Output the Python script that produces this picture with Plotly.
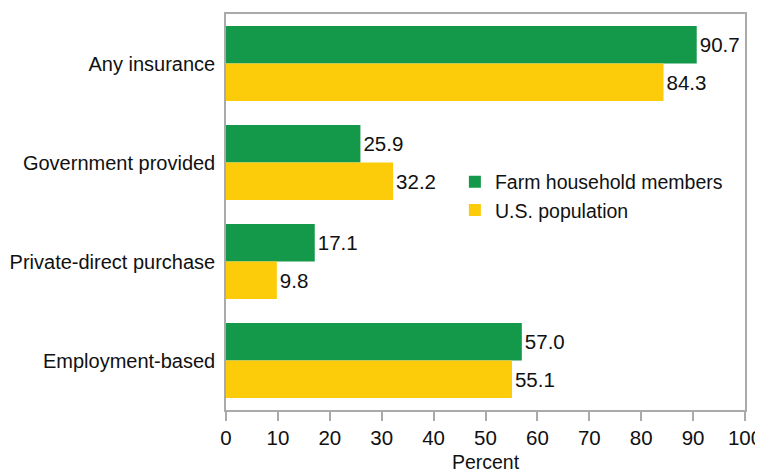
import plotly.graph_objects as go

# 数据
categories = ["Any insurance", "Government provided", "Private-direct purchase", "Employment-based"]
farm_values = [90.7, 25.9, 17.1, 57.0]
us_values = [84.3, 32.2, 9.8, 55.1]
x_ticks = list(range(0, 101, 10))

GREEN = "#14984A"
YELLOW = "#FCCB0A"
FONT = "Liberation Sans, Arial, sans-serif"

fig = go.Figure()
fig.add_trace(go.Bar(
    y=categories, x=farm_values, orientation="h",
    name="Farm household members", marker=dict(color=GREEN, line=dict(width=0)),
    text=[f"{v:.1f}" for v in farm_values], textposition="outside",
    textfont=dict(size=20.5, color="#111"), cliponaxis=False,
))
fig.add_trace(go.Bar(
    y=categories, x=us_values, orientation="h",
    name="U.S. population", marker=dict(color=YELLOW, line=dict(width=0)),
    text=[f"{v:.1f}" for v in us_values], textposition="outside",
    textfont=dict(size=20.5, color="#111"), cliponaxis=False,
))

# ページ本体の8pxマージン分を差し引いてサイズ調整
fig.update_layout(
    width=755, height=465,
    barmode="group", bargap=0.24, bargroupgap=0,
    paper_bgcolor="white", plot_bgcolor="white",
    font=dict(family=FONT, size=20, color="#111"),
    margin=dict(l=218, r=18, t=6, b=63),
    legend=dict(
        x=0.441, y=0.625, xanchor="left", yanchor="top",
        bgcolor="rgba(0,0,0,0)", font=dict(size=19.5),
        itemwidth=30, tracegroupgap=0,
    ),
    xaxis=dict(
        range=[0, 100], tickvals=x_ticks, showgrid=False, zeroline=False,
        showline=True, mirror=True, linecolor="#aaaaaa", linewidth=1.5,
        ticks="outside", ticklen=9, tickcolor="#aaaaaa", tickwidth=1.5,
        title=dict(text="Percent", standoff=9, font=dict(size=19.5)),
        tickfont=dict(size=20.5), automargin=False,
    ),
    yaxis=dict(
        autorange="reversed", showgrid=False, zeroline=False,
        showline=True, mirror=True, linecolor="#aaaaaa", linewidth=1.5,
        ticks="", ticklabelstandoff=5, tickfont=dict(size=20), automargin=False,
    ),
)

fig.write_html("out.html")
